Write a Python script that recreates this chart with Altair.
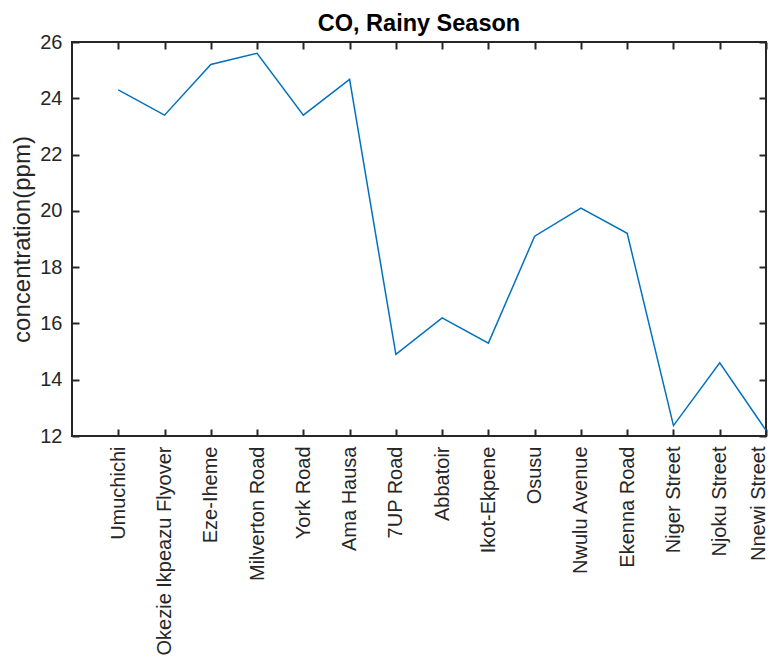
import json
import altair as alt
import pandas as pd

sites = ["Umuchichi", "Okezie Ikpeazu Flyover", "Eze-Iheme", "Milverton Road",
         "York Road", "Ama Hausa", "7UP Road", "Abbatoir", "Ikot-Ekpene",
         "Osusu", "Nwulu Avenue", "Ekenna Road", "Niger Street",
         "Njoku Street", "Nnewi Street"]
co_values = [24.3, 23.4, 25.2, 25.6, 23.4, 24.67, 14.9, 16.2, 15.3,
             19.1, 20.1, 19.2, 12.37, 14.6, 12.2]
y_ticks = [12, 14, 16, 18, 20, 22, 24, 26]

df = pd.DataFrame({"idx": list(range(1, len(sites) + 1)),
                   "site": sites, "value": co_values})

FONT = "Liberation Sans"
AX = "#262626"
TL = 7
N = len(sites)

label_expr = json.dumps(sites) + "[datum.value - 1]"

xscale = alt.Scale(domain=[0, N], nice=False, zero=False)
yscale = alt.Scale(domain=[12, 26], nice=False, zero=False)
xticks = list(range(1, N + 1))

line = alt.Chart(df).mark_line(color="#0072BD", strokeWidth=1.5).encode(
    x=alt.X("idx:Q", scale=xscale,
            axis=alt.Axis(orient="bottom", values=xticks, labelExpr=label_expr,
                          labelAngle=-90, labelPadding=10, labelFontSize=20,
                          labelFont=FONT, labelColor=AX, labelOverlap=False,
                          labelFlush=False, labelLimit=400,
                          labelOffset={"condition": {"test": f"datum.value == {N}", "value": -8},
                                       "value": 0},
                          ticks=False, domain=False, grid=False, title=None)),
    y=alt.Y("value:Q", scale=yscale,
            axis=alt.Axis(orient="left", values=y_ticks, labelPadding=10,
                          labelFontSize=20, labelFont=FONT, labelColor=AX,
                          labelFlush=False, ticks=False, domain=False, grid=False,
                          title="concentration(ppm)", titleFont=FONT,
                          titleFontSize=24, titleFontWeight="normal",
                          titleColor=AX, titlePadding=5)),
)


def tick_layer(xorient, yorient):
    return alt.Chart(df).mark_point(opacity=0).encode(
        x=alt.X("idx:Q", scale=xscale,
                axis=alt.Axis(orient=xorient, values=xticks, offset=-TL,
                              tickSize=TL, tickWidth=2, tickColor=AX,
                              labels=False, domain=False, grid=False,
                              title=None)),
        y=alt.Y("value:Q", scale=yscale,
                axis=alt.Axis(orient=yorient, values=y_ticks, offset=-TL,
                              tickSize=TL, tickWidth=2, tickColor=AX,
                              labels=False, domain=False, grid=False,
                              title=None)),
    )


chart = alt.layer(line, tick_layer("bottom", "left"), tick_layer("top", "right")).resolve_axis(
    x="independent", y="independent"
).properties(
    width=694,
    height=394,
    background="white",
    autosize=alt.AutoSizeParams(type="none"),
    padding={"left": 64, "top": 34, "right": 2, "bottom": 225},
    title=alt.TitleParams("CO, Rainy Season", font=FONT, fontSize=23.5,
                          fontWeight="bold", color="#000000", anchor="middle",
                          frame="group", offset=-3),
).configure_view(
    stroke=AX, strokeWidth=2
)

chart.save("out.html", embed_options={"renderer": "svg", "actions": False})
